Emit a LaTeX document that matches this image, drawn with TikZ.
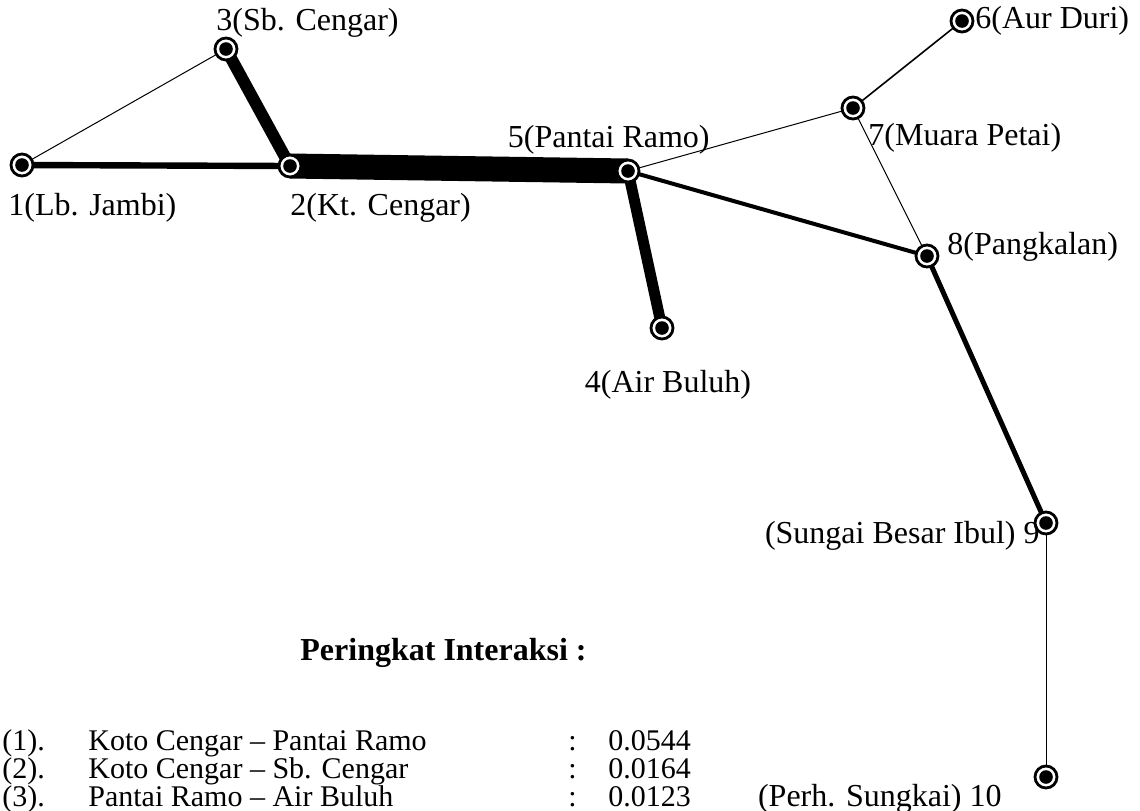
\documentclass[tikz,border=0pt]{standalone}
\usepackage{fontspec}
\setmainfont{Liberation Serif}
\usetikzlibrary{positioning,backgrounds}

\tikzset{
  town/.style={circle, draw, line width=1.4pt, fill=white, inner sep=0pt, minimum size=11pt,
    path picture={\fill[black] (path picture bounding box.center) circle (3.4pt);}},
  lbl/.style={font=\fontsize{16}{19}\selectfont, inner sep=0pt},
  item/.style={font=\fontsize{15}{18}\selectfont, inner sep=0pt, anchor=base west},
}

\begin{document}
\begin{tikzpicture}[x=0.5pt, y=-0.5pt]
    \useasboundingbox (0,0) rectangle (1140,810);

    % Towns
    \node[town] (n1) at (22,165) {};
    \node[town] (n2) at (290,166) {};
    \node[town] (n3) at (226,49) {};
    \node[town] (n4) at (662,328) {};
    \node[town] (n5) at (628,171) {};
    \node[town] (n6) at (962,21) {};
    \node[town] (n7) at (853,108) {};
    \node[town] (n8) at (927,256) {};
    \node[town] (n9) at (1046,523) {};
    \node[town] (n10) at (1046,777) {};

    % Town names
    \node[lbl, anchor=base west] (t1) at (8,215) {1(Lb. Jambi)};
    \node[lbl, anchor=base west] (t2) at (290,215) {2(Kt. Cengar)};
    \node[lbl, anchor=base west] (t3) at (216,30) {3(Sb. Cengar)};
    \node[lbl, anchor=base] (t4) at (668,392) {4(Air Buluh)};
    \node[lbl, anchor=base east] (t5) at (710,147) {5(Pantai Ramo)};
    \node[lbl, anchor=west] (t6) at (975,21) {6(Aur Duri)};
    \node[lbl, anchor=base west] (t7) at (868,145) {7(Muara Petai)};
    \node[lbl, anchor=base west] (t8) at (947,254) {8(Pangkalan)};
    \node[lbl, anchor=base east] (t9) at (1040,543) {(Sungai Besar Ibul) 9};
    \node[lbl, anchor=base east] (t10) at (1002,806) {(Perh. Sungkai) 10};

    % Links, width by interaction
    \begin{pgfonlayer}{background}
        \draw[line width=12.5pt] (n2.center) -- (n5.center);
        \draw[line width=6pt] (n3.center) -- (n2.center);
        \draw[line width=5.5pt] (n5.center) -- (n4.center);
        \draw[line width=3.2pt] (n1.center) -- (n2.center);
        \draw[line width=2.5pt] (n8.center) -- (n9.center);
        \draw[line width=2pt] (n5.center) -- (n8.center);
        \draw[line width=0.8pt] (n7.center) -- (n6.center);
        \draw[line width=0.5pt] (n1.center) -- (n3.center);
        \draw[line width=0.5pt] (n5.center) -- (n7.center);
        \draw[line width=0.5pt] (n7.center) -- (n8.center);
        \draw[line width=0.3pt] (n9.center) -- (n10.center);
    \end{pgfonlayer}

    % Ranking
    \node[lbl, anchor=base west, font=\fontsize{16}{19}\selectfont\bfseries] (rank) at (300,660) {Peringkat Interaksi :};
    \foreach \i/\pair/\val [count=\k from 0] in {1/Koto Cengar -- Pantai Ramo/0.0544,
                                                  2/Koto Cengar -- Sb. Cengar/0.0164,
                                                  3/Pantai Ramo -- Air Buluh/0.0123} {
        \node[item] (r\i) at (2,750+28*\k) {(\i).};
        \node[item] (p\i) at (88,750+28*\k) {\pair};
        \node[item] (c\i) at (568,750+28*\k) {:};
        \node[item] (v\i) at (608,750+28*\k) {\val};
    }
\end{tikzpicture}
\end{document}
